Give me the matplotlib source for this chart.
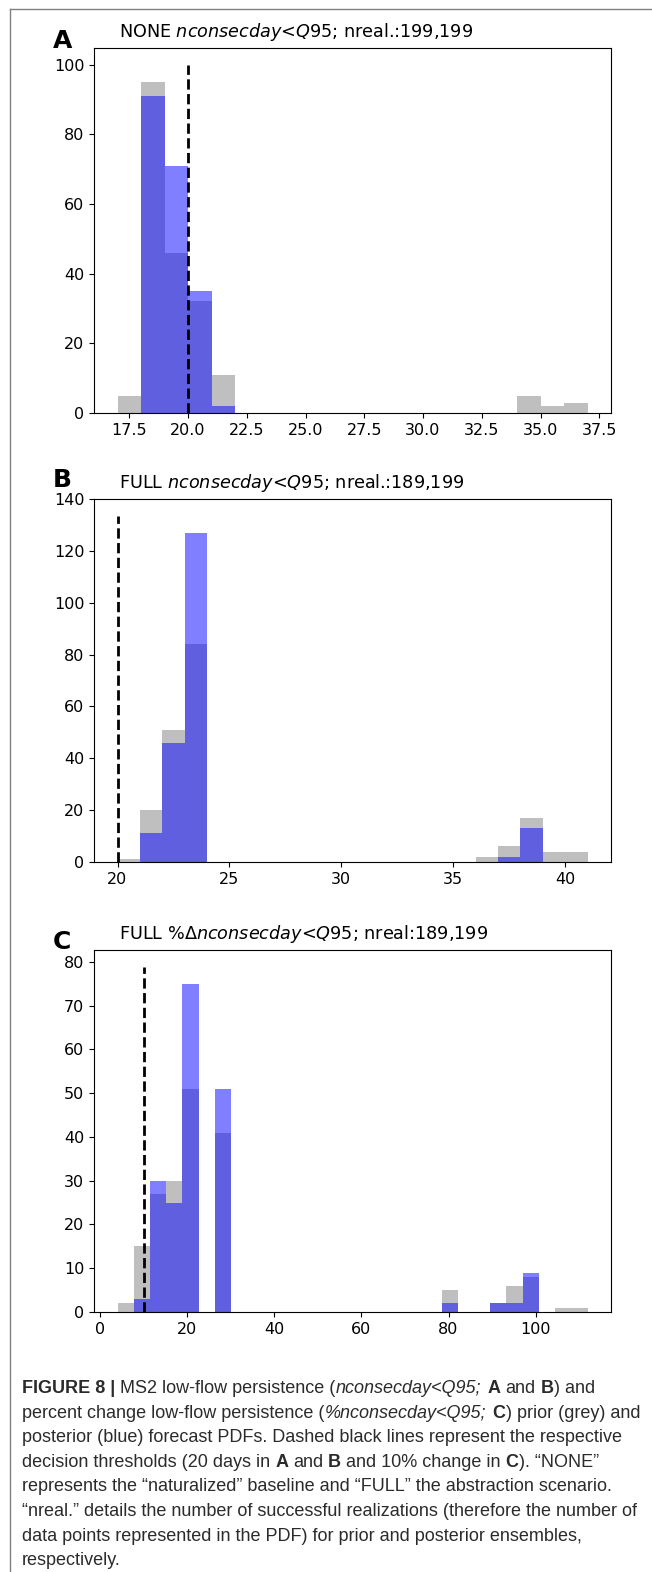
import matplotlib
matplotlib.use('Agg')
import matplotlib.pyplot as plt
import numpy as np
from matplotlib.lines import Line2D

# panel A - NONE, bins of one day
edges_a = list(range(17, 38))
prior_a = [5, 95, 46, 32, 11, 0, 0, 0, 0, 0, 0, 0, 0, 0, 0, 0, 0, 5, 2, 3]
post_a = [0, 91, 71, 35, 2, 0, 0, 0, 0, 0, 0, 0, 0, 0, 0, 0, 0, 0, 0, 0]
thr_a = 20
title_a = 'NONE $nconsecday$<$Q$95; nreal.:199,199'

# panel B - FULL
edges_b = list(range(20, 42))
prior_b = [1, 20, 51, 84, 0, 0, 0, 0, 0, 0, 0, 0, 0, 0, 0, 0, 2, 6, 17, 4, 4]
post_b = [0, 11, 46, 127, 0, 0, 0, 0, 0, 0, 0, 0, 0, 0, 0, 0, 0, 2, 13, 0, 0]
thr_b = 20
title_b = 'FULL $nconsecday$<$Q$95; nreal.:189,199'

# panel C - FULL percent change, 29 bins between 4.0 and 111.9
edges_c = np.linspace(4.0, 111.9, 30)
prior_c = [2, 15, 27, 30, 51, 0, 41, 0, 0, 0, 0, 0, 0, 0, 0, 0, 0, 0, 0, 0,
           5, 0, 0, 2, 6, 8, 0, 1, 1]
post_c = [0, 3, 30, 25, 75, 0, 51, 0, 0, 0, 0, 0, 0, 0, 0, 0, 0, 0, 0, 0,
          2, 0, 0, 2, 2, 9, 0, 0, 0]
thr_c = 10
title_c = 'FULL %$\\Delta nconsecday$<$Q$95; nreal:189,199'

caption_lines = [
    [('FIGURE 8 |', 'b'), (' MS2 low-flow persistence (', 'r'), ('nconsecday<Q95;', 'i'),
     (' ', 'r'), ('A', 'b'), (' and ', 'r'), ('B', 'b'), (') and', 'r')],
    [('percent change low-flow persistence (', 'r'), ('%nconsecday<Q95;', 'i'), (' ', 'r'),
     ('C', 'b'), (') prior (grey) and', 'r')],
    [('posterior (blue) forecast PDFs. Dashed black lines represent the respective', 'r')],
    [('decision thresholds (20 days in ', 'r'), ('A', 'b'), (' and ', 'r'), ('B', 'b'),
     (' and 10% change in ', 'r'), ('C', 'b'), ('). \u201cNONE\u201d', 'r')],
    [('represents the \u201cnaturalized\u201d baseline and \u201cFULL\u201d the abstraction scenario.', 'r')],
    [('\u201cnreal.\u201d details the number of successful realizations (therefore the number of', 'r')],
    [('data points represented in the PDF) for prior and posterior ensembles,', 'r')],
    [('respectively.', 'r')],
]

W, H = 652, 1572
fig = plt.figure(figsize=(W / 100, H / 100), dpi=100)


def panel(top, bottom, edges, prior, post, thr, title, label, label_base):
    ax = fig.add_axes([94 / W, 1 - bottom / H, (611 - 94) / W, (bottom - top) / H])
    edges = np.asarray(edges, dtype=float)
    mids = (edges[:-1] + edges[1:]) / 2
    ax.hist(mids, bins=edges, weights=prior, color='grey', alpha=0.5)
    ax.hist(mids, bins=edges, weights=post, color='blue', alpha=0.5)
    ytop = ax.get_ylim()[1]
    ax.plot([thr, thr], [0, ytop], 'k--', lw=2)
    ax.tick_params(labelsize=11.5)
    ax.text(0.048, 1 + 11 / (bottom - top), title, transform=ax.transAxes,
            fontsize=12.7, va='baseline', ha='left')
    fig.text(53 / W, 1 - label_base / H, label, fontsize=18, fontweight='bold',
             va='baseline', ha='left')
    return ax


panel(48, 413, edges_a, prior_a, post_a, thr_a, title_a, 'A', 48)
panel(499, 862, edges_b, prior_b, post_b, thr_b, title_b, 'B', 487)
panel(950, 1312, edges_c, prior_c, post_c, thr_c, title_c, 'C', 949)

# thin frame of the page (top and left)
fig.add_artist(Line2D([9.5 / W, 1], [1 - 8.5 / H, 1 - 8.5 / H], transform=fig.transFigure,
                      color='#808080', lw=1))
fig.add_artist(Line2D([9.5 / W, 9.5 / W], [0, 1 - 8.5 / H], transform=fig.transFigure,
                      color='#808080', lw=1))

# caption, drawn piece by piece to mix bold / italic
cap_family = ['Liberation Sans Narrow', 'Liberation Sans', 'DejaVu Sans']
cap_color = '#2b2b2b'
styles = {'r': ('normal', 'normal'), 'b': ('bold', 'normal'), 'i': ('normal', 'italic')}
renderer = fig.canvas.get_renderer()


def width_px(s, size, code='r'):
    weight, style = styles[code]
    t = fig.text(0, 0, s, fontsize=size, fontweight=weight, fontstyle=style, family=cap_family)
    w = t.get_window_extent(renderer).width
    t.remove()
    return w


ref_line = caption_lines[2][0][0]
cap_size = 14 * 606 / width_px(ref_line, 14)
cap_size = min(cap_size, 14.5)
space = width_px('a a', cap_size) - width_px('aa', cap_size)

base = 1393
for line in caption_lines:
    x = 22.0
    for s, code in line:
        weight, style = styles[code]
        lead = len(s) - len(s.lstrip(' '))
        trail = len(s) - len(s.rstrip(' '))
        core = s.strip(' ')
        x += lead * space
        if core:
            t = fig.text(x / W, 1 - base / H, core, fontsize=cap_size, fontweight=weight,
                         fontstyle=style, family=cap_family, color=cap_color, va='baseline')
            w = t.get_window_extent(renderer).width
            if style == 'italic':
                w -= 0.7 * space
            x += w
        x += trail * space
    base += 24.6

fig.savefig('out.png', dpi=100)
